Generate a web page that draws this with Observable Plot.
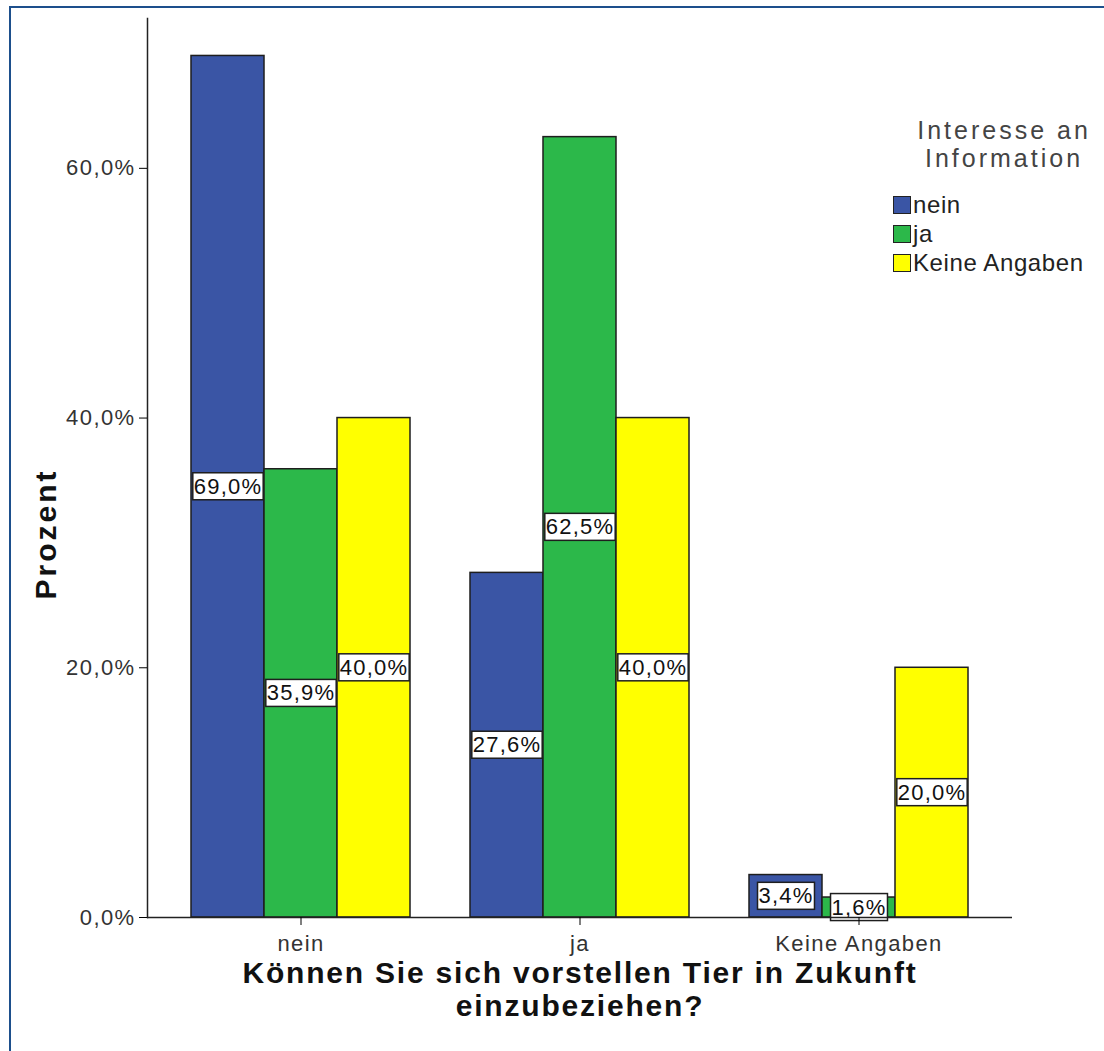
<!DOCTYPE html>
<html><head><meta charset="utf-8">
<script src="https://cdn.jsdelivr.net/npm/d3@7"></script>
<script src="https://cdn.jsdelivr.net/npm/@observablehq/plot@0.6"></script>
<style>
body{margin:0;background:#fff;}
#wrap{position:relative;width:1104px;height:1051px;overflow:hidden;font-family:"Liberation Sans",Arial,sans-serif;background:#fff;}
#chart{position:absolute;left:0;top:0;}
#border{position:absolute;left:9px;top:6px;width:1300px;height:1300px;border-left:2px solid #1d4f8c;border-top:2px solid #1d4f8c;pointer-events:none;}
#legend{position:absolute;left:893px;top:116px;width:211px;color:#222;}
#legend .title{position:absolute;left:0px;width:222px;text-align:center;font-size:25px;line-height:28px;color:#444;letter-spacing:3px;}
#legend .item{position:absolute;left:0;height:29px;display:flex;align-items:center;font-size:24px;letter-spacing:0.6px;white-space:nowrap;}
#legend .sw{width:16px;height:16px;border:1.5px solid #222;margin-right:2px;}
#ytitle{position:absolute;left:46px;top:534px;transform:translate(-50%,-50%) rotate(-90deg);font-size:30px;font-weight:bold;letter-spacing:3px;color:#111;white-space:nowrap;}
svg g[aria-label$="tick label"] text{letter-spacing:1.4px;}
svg g.vlabel text{letter-spacing:1.2px;}
svg g.xtitle text{letter-spacing:1.8px;}
</style></head><body>
<div id="wrap"><div id="chart"></div><div id="legend"></div><div id="ytitle"></div><div id="border"></div></div>
<script>
const categories = ["nein", "ja", "Keine Angaben"];
const seriesNames = ["nein", "ja", "Keine Angaben"];
const seriesNein = [69.0, 27.6, 3.4];
const seriesJa = [35.9, 62.5, 1.6];
const seriesKeineAngaben = [40.0, 40.0, 20.0];
const yTicks = [0, 20, 40, 60];
const colors = ["#3a55a5", "#2cb84a", "#ffff00"];
const legendTitle = ["Interesse an", "Information"];
const xTitle = "Können Sie sich vorstellen Tier in Zukunft\neinzubeziehen?";
const yTitle = "Prozent";

const seriesValues = [seriesNein, seriesJa, seriesKeineAngaben];
const rows = [];
seriesNames.forEach((s, si) => categories.forEach((c, ci) => rows.push({cat: c, ser: s, si, value: seriesValues[si][ci]})));
const fmt = v => v.toFixed(1).replace(".", ",") + "%";
const bw = 73;

const marks = [];
seriesNames.forEach((s, i) => {
  const d = rows.filter(r => r.si === i);
  marks.push(Plot.barY(d, {x: "cat", y: "value", fill: colors[i], stroke: "#1e1e1e", strokeWidth: 1.5, dx: (i - 1) * bw}));
});
seriesNames.forEach((s, i) => {
  const d = rows.filter(r => r.si === i);
  marks.push(Plot.text(d, {x: "cat", y: d => d.value / 2, text: d => fmt(d.value), dx: (i - 1) * bw, fontSize: 22, fill: "#111", className: "vlabel"}));
});
marks.push(Plot.ruleY([0], {stroke: "#222", strokeWidth: 1.5}));
marks.push(Plot.frame({anchor: "left", stroke: "#222", strokeWidth: 1.5}));
marks.push(Plot.axisY({ticks: yTicks, tickFormat: fmt, tickSize: 8, tickPadding: 4, fontSize: 22, fill: "#333", label: null}));
marks.push(Plot.axisX({tickSize: 8, tickPadding: 10, fontSize: 22, fill: "#333", label: null}));
marks.push(Plot.text([xTitle], {frameAnchor: "bottom", lineAnchor: "top", dy: 42, fontSize: 30, fontWeight: "bold", lineHeight: 1.1, fill: "#111", className: "xtitle"}));

const plot = Plot.plot({
  width: 1104, height: 1051,
  marginLeft: 147, marginRight: 92, marginTop: 18, marginBottom: 134,
  style: {fontFamily: '"Liberation Sans", Arial, sans-serif', background: "#fff"},
  x: {domain: categories, paddingInner: 0.738, paddingOuter: 0.419, axis: null},
  y: {domain: [0, 72], axis: null},
  marks
});
document.getElementById("chart").appendChild(plot);

// white label boxes behind value labels
d3.select(plot).selectAll("g.vlabel text").each(function() {
  const b = this.getBBox();
  const padX = 1, padY = 1;
  d3.select(this.parentNode).insert("rect", () => this)
    .attr("transform", this.getAttribute("transform"))
    .attr("x", b.x - padX).attr("y", b.y - padY)
    .attr("width", b.width + 2 * padX).attr("height", b.height + 2 * padY)
    .attr("fill", "#fff").attr("stroke", "#1e1e1e").attr("stroke-width", 1.5);
});

d3.select("#ytitle").text(yTitle);

// legend
const leg = d3.select("#legend");
legendTitle.forEach((t, i) => leg.append("div").attr("class", "title").style("top", (i * 28) + "px").text(t));
seriesNames.forEach((s, i) => {
  const it = leg.append("div").attr("class", "item").style("top", (74 + i * 29) + "px");
  it.append("div").attr("class", "sw").style("background", colors[i]);
  it.append("span").text(s);
});
</script>
</body></html>
